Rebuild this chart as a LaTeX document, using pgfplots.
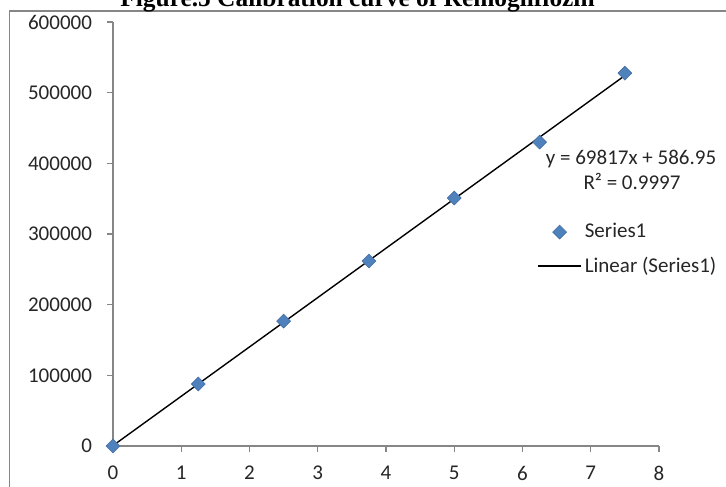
\documentclass[border=0pt]{standalone}
\usepackage{pgfplots}
\pgfplotsset{compat=1.18}
\usepackage{fontspec}
\setmainfont{Carlito}
\newfontfamily\titlefont{Liberation Serif}
\definecolor{mk}{RGB}{79,129,189}
\definecolor{ax}{RGB}{134,134,134}
\pgfplotsset{
  diamondlegend/.style={legend image code/.code={\path (0pt,0pt) (21.5pt,0pt); \draw[##1] plot coordinates {(10.75pt,0pt)};}},
  linelegend/.style={legend image code/.code={\draw[##1] (0pt,0pt) -- (21.5pt,0pt);}},
}

\begin{document}
\begin{tikzpicture}[x=0.5pt,y=0.5pt]
\path[use as bounding box] (0,0) rectangle (726,486);
\clip (0,0) rectangle (726,486);
% chart area frame
\draw[ax, line width=0.75pt] (9.5,-5) -- (9.5,475) -- (740,475);
\node[font=\titlefont\bfseries\fontsize{12.7}{14}\selectfont, anchor=base, inner sep=0pt]
  at (357.5,479) {Figure.5 Calibration curve of Remogliflozin};
\begin{axis}[
  at={(56.5pt,20pt)}, anchor=south west,
  scale only axis, width=273pt, height=212pt,
  xmin=0, xmax=8, ymin=0, ymax=600000,
  axis x line*=bottom, axis y line*=left,
  axis line style={ax, line width=0.65pt, -},
  tick align=outside, major tick length=3pt,
  tick style={ax, line width=0.65pt},
  xtick={0,1,...,8}, ytick={0,100000,...,600000},
  scaled y ticks=false,
  /pgf/number format/assume math mode=true,
  yticklabel style={/pgf/number format/fixed, /pgf/number format/set thousands separator={}, xshift=-4pt},
  xticklabel style={yshift=-3.5pt},
  ticklabel style={font=\fontsize{10.5}{12}\selectfont, black!85},
  clip=false,
  legend style={draw=none, fill=none, inner sep=0pt, at={(0.7766,0.526)}, anchor=north west,
    nodes={inner sep=0pt}, column sep=1.5pt, row sep=8pt,
    font=\fontsize{10.5}{12}\selectfont, text=black!85},
  legend cell align=left,
]
\addplot[only marks, mark=square*, mark size=2.45pt,
  mark options={rotate=45, fill=mk, draw=mk!85!black, line width=0.3pt},
  diamondlegend]
  coordinates {(0,0) (1.25,87700) (2.5,176800) (3.75,261700) (5,350800) (6.25,430000) (7.5,527600)};
\addlegendentry{Series1}
\addplot[black, line width=0.7pt, no marks, linelegend]
  coordinates {(0,586.95) (7.5,524214.45)};
\addlegendentry{Linear (Series1)}
\end{axis}
\node[font=\fontsize{10.5}{12}\selectfont, text=black!85, anchor=base, inner sep=0pt] at (631,321) {y = 69817x + 586.95};
\node[font=\fontsize{10.5}{12}\selectfont, text=black!85, anchor=base, inner sep=0pt] at (632,296) {R² = 0.9997};
\end{tikzpicture}
\end{document}
